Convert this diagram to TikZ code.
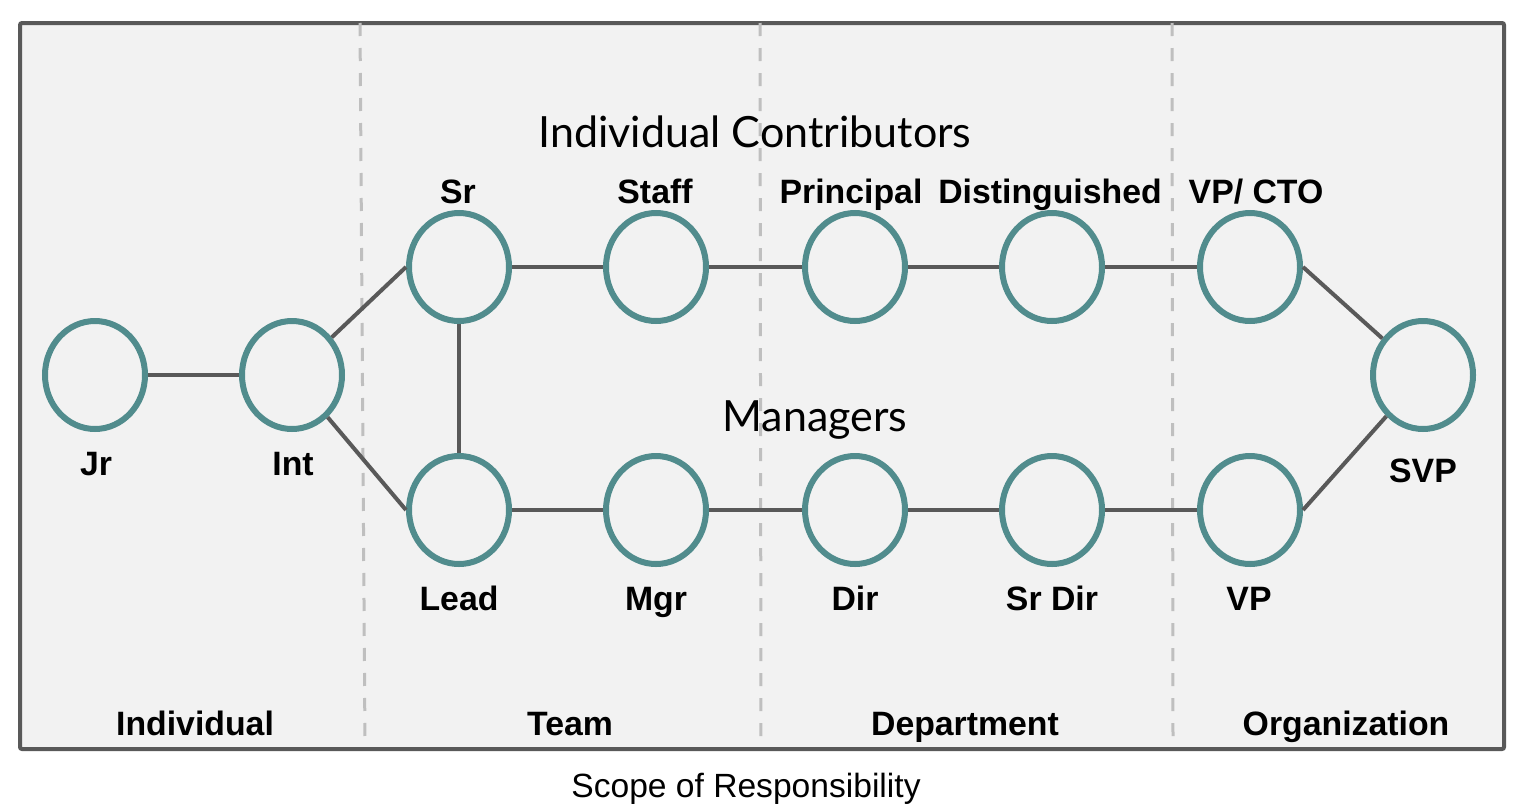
\documentclass[tikz,border=0pt]{standalone}
\usepackage{fontspec}
\setmainfont{Liberation Sans}
\newfontfamily\latofont{Lato}
\usetikzlibrary{shapes.geometric}
\definecolor{teal1}{HTML}{518C8D}
\definecolor{edgegray}{HTML}{595959}
\definecolor{dashgray}{HTML}{BFBFBF}
\definecolor{bgfill}{HTML}{F2F2F2}
\tikzset{
  role/.style={ellipse, draw=teal1, line width=6pt, minimum width=100pt, minimum height=108pt, inner sep=0pt},
  link/.style={draw=edgegray, line width=4pt},
  divider/.style={draw=dashgray, line width=3pt, dash pattern=on 13pt off 12pt},
  lbl/.style={anchor=base, inner sep=0pt, font=\fontsize{33.8}{36}\selectfont\bfseries},
  big/.style={anchor=base, inner sep=0pt, font=\fontsize{43}{46}\selectfont\latofont},
  scopelbl/.style={anchor=base, inner sep=0pt, font=\fontsize{33.6}{36}\selectfont}
}
\begin{document}
\begin{tikzpicture}[x=1pt, y=-1pt]
\useasboundingbox (0,0) rectangle (1522,806);
\node[draw=edgegray, fill=bgfill, line width=4pt, rounded corners=2pt, minimum width=1484pt, minimum height=726pt, inner sep=0pt, anchor=north west] (frame) at (18,21) {};
\coordinate (d1t) at (360,23); \coordinate (d1b) at (365,745);
\coordinate (d2t) at (760,23); \coordinate (d2b) at (761,745);
\coordinate (d3t) at (1172,23); \coordinate (d3b) at (1173,745);
\draw[divider] (d1t) -- (d1b);
\draw[divider] (d2t) -- (d2b);
\draw[divider] (d3t) -- (d3b);

\node[role] (jr) at (95,375) {};
\node[role] (int) at (292,375) {};
\node[role] (sr) at (459,267) {};
\node[role] (staff) at (656,267) {};
\node[role] (principal) at (855,267) {};
\node[role] (dist) at (1052,267) {};
\node[role] (vpcto) at (1250,267) {};
\node[role] (lead) at (459,510) {};
\node[role] (mgr) at (656,510) {};
\node[role] (dir) at (855,510) {};
\node[role] (srdir) at (1052,510) {};
\node[role] (vp) at (1250,510) {};
\node[role] (svp) at (1423,375) {};

\draw[link] (jr) -- (int);
\draw[link] (int) -- (sr.west);
\draw[link] (int) -- (lead.west);
\draw[link] (sr) -- (staff);
\draw[link] (staff) -- (principal);
\draw[link] (principal) -- (dist);
\draw[link] (dist) -- (vpcto);
\draw[link] (sr) -- (lead);
\draw[link] (lead) -- (mgr);
\draw[link] (mgr) -- (dir);
\draw[link] (dir) -- (srdir);
\draw[link] (srdir) -- (vp);
\draw[link] (vpcto.east) -- (svp);
\draw[link] (vp.east) -- (svp);

\node[lbl] (ljr) at (96,475) {Jr};
\node[lbl] (lint) at (293,475) {Int};
\node[lbl] (lsr) at (458,203) {Sr};
\node[lbl] (lstaff) at (655,203) {Staff};
\node[lbl] (lprincipal) at (851,203) {Principal};
\node[lbl] (ldist) at (1050,203) {Distinguished};
\node[lbl] (lvpcto) at (1256,203) {VP/ CTO};
\node[lbl] (llead) at (459,610) {Lead};
\node[lbl] (lmgr) at (656,610) {Mgr};
\node[lbl] (ldir) at (855,610) {Dir};
\node[lbl] (lsrdir) at (1052,610) {Sr Dir};
\node[lbl] (lvp) at (1249,610) {VP};
\node[lbl] (lsvp) at (1423,482) {SVP};

\node[lbl] (sind) at (195,735) {Individual};
\node[lbl] (steam) at (570,735) {Team};
\node[lbl] (sdept) at (965,735) {Department};
\node[lbl] (sorg) at (1346,735) {Organization};

\node[big] (ic) at (755,147) {Individual Contributors};
\node[big] (mg) at (815,431) {Managers};
\node[scopelbl] (scope) at (746,797) {Scope of Responsibility};
\end{tikzpicture}
\end{document}
